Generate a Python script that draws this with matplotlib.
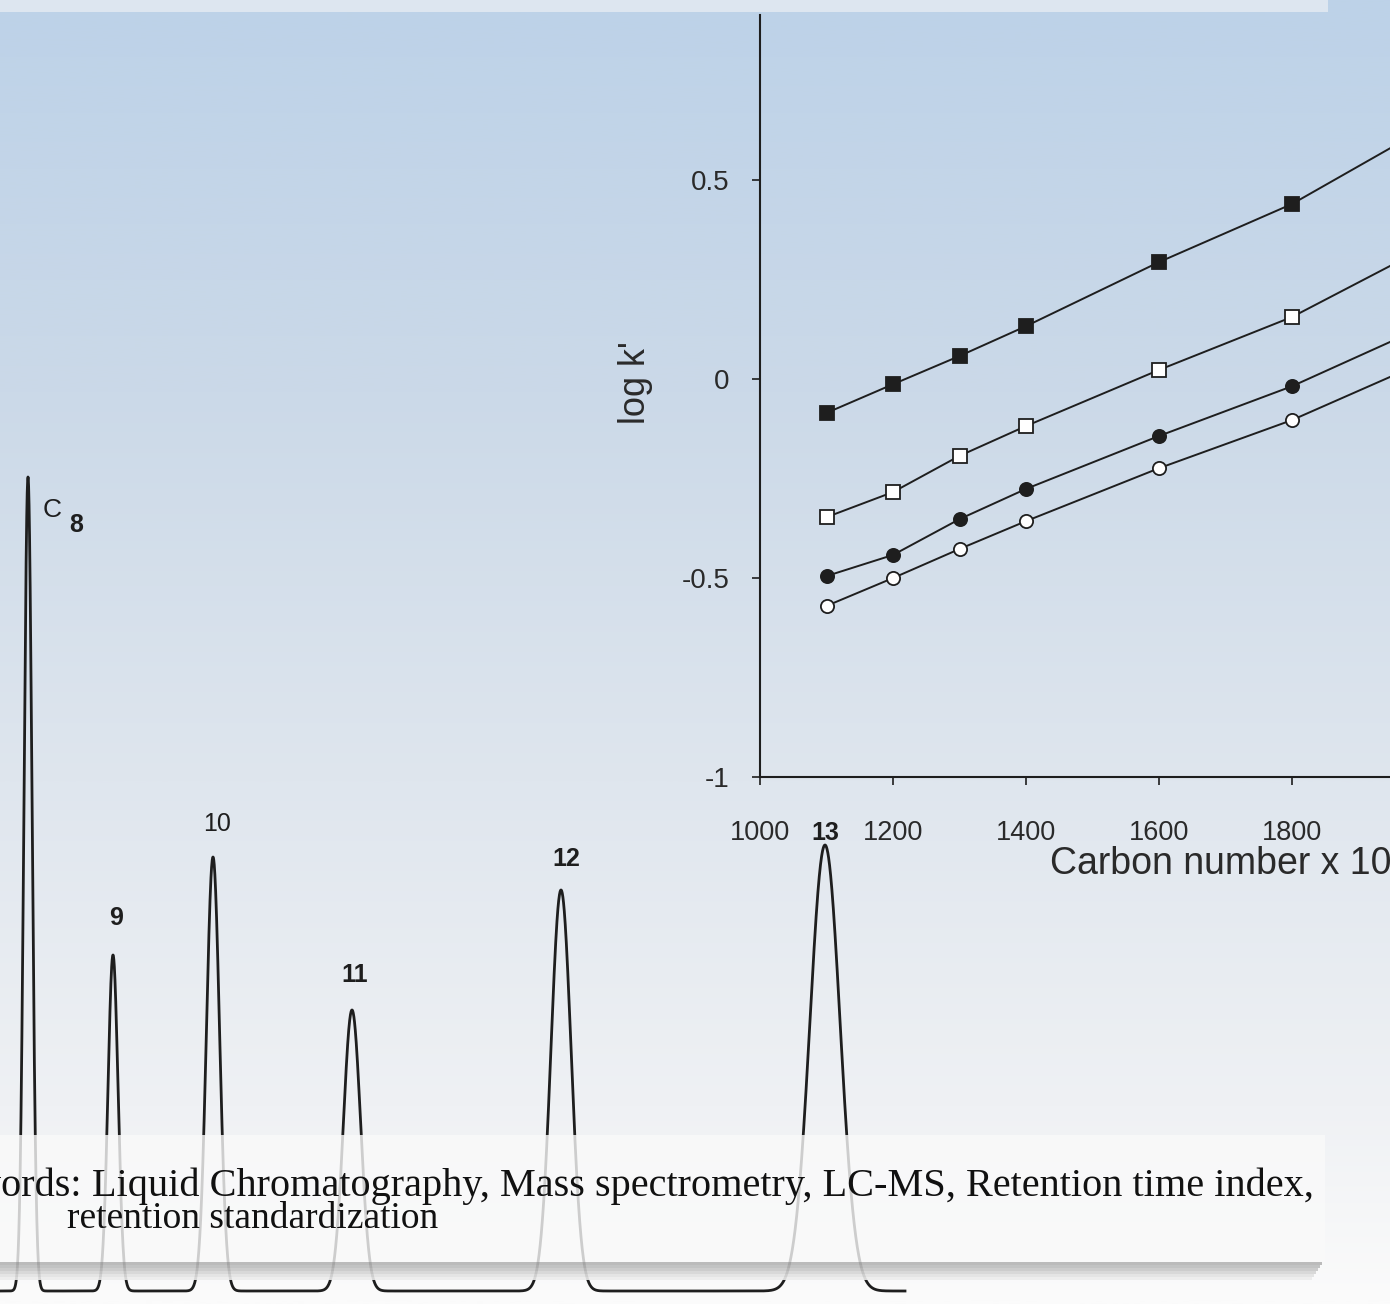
import numpy as np
import matplotlib
matplotlib.use("Agg")
import matplotlib.pyplot as plt
from matplotlib.colors import LinearSegmentedColormap
from matplotlib.patches import Rectangle

W, H, DPI = 1390, 1304, 100

# ---------------- chromatogram data ----------------
peak_labels = ["C8", "9", "10", "11", "12", "13"]
retention_min = [0.28, 1.13, 2.13, 3.52, 5.61, 8.25]
peak_height = [81.4, 33.6, 43.4, 28.1, 40.1, 44.6]
peak_sigma = [0.04, 0.05, 0.065, 0.085, 0.10, 0.15]
run_start_min, run_end_min = -0.3, 9.05

# ---------------- inset: log k' vs carbon number ----------------
carbon_number = [1100, 1200, 1300, 1400, 1600, 1800, 2000]
logk_filled_square = [-0.085, -0.013, 0.058, 0.133, 0.294, 0.440, 0.630]
logk_open_square = [-0.347, -0.284, -0.193, -0.118, 0.023, 0.156, 0.330]
logk_filled_circle = [-0.495, -0.442, -0.352, -0.276, -0.143, -0.018, 0.133]
logk_open_circle = [-0.570, -0.500, -0.427, -0.357, -0.224, -0.103, 0.044]
x_ticks = [1000, 1200, 1400, 1600, 1800]
y_ticks = [-1, -0.5, 0, 0.5]
y_ticklabels = ["-1", "-0.5", "0", "0.5"]

keywords_head = "Keywords: "
keywords_line1 = "Liquid Chromatography, Mass spectrometry, LC-MS, Retention time index,"
keywords_line2 = "retention standardization"


def fx(px):
    return px / W


def fy(py):
    return 1 - py / H


fig = plt.figure(figsize=(W / DPI, H / DPI), dpi=DPI)
plt.rcParams["font.family"] = ["Liberation Sans", "DejaVu Sans"]
ink = "#1e1e1e"

# background gradient
bg = fig.add_axes([0, 0, 1, 1], zorder=-5)
cmap = LinearSegmentedColormap.from_list(
    "bg", [(0.0, "#bdd2e8"), (0.3, "#cbd9e8"), (0.6, "#dfe6ee"),
           (0.85, "#eff1f4"), (1.0, "#fbfbfb")])
bg.imshow(np.linspace(0, 1, 512)[:, None], aspect="auto", cmap=cmap,
          extent=[0, 1, 0, 1], origin="upper")
bg.set_axis_off()

# chromatogram
ch = fig.add_axes([0, 0, 1, 1], zorder=0)
ch.set_facecolor("none")
ch.set_xlim(0, W / 100)
ch.set_ylim(-(H - 1291) / 10, 1291 / 10)
ch.set_axis_off()
t = np.linspace(run_start_min, run_end_min, 6000)
signal = np.zeros_like(t)
for rt, h, s in zip(retention_min, peak_height, peak_sigma):
    signal += h * np.exp(-0.5 * ((t - rt) / s) ** 2)
ch.plot(t, signal, color=ink, lw=2.0, solid_joinstyle="round")

label_offsets = {"9": (3, 37), "10": (4, 33), "11": (3, 35), "12": (5, 31), "13": (0, 12)}
for lab, rt, h in zip(peak_labels, retention_min, peak_height):
    if lab == "C8":
        ch.annotate("C", (rt, h), xytext=(24, -33), textcoords="offset pixels",
                    ha="center", va="center", fontsize=19, color=ink)
        ch.annotate("8", (rt, h), xytext=(48, -48), textcoords="offset pixels",
                    ha="center", va="center", fontsize=18, fontweight="bold", color=ink)
    else:
        ox, oy = label_offsets[lab]
        ch.annotate(lab, (rt, h), xytext=(ox, oy), textcoords="offset pixels",
                    ha="center", va="center", fontsize=18,
                    fontweight="normal" if lab == "10" else "bold", color=ink)

# inset
left_px, bottom_px, xmax = 760, 777, 2100
ax = fig.add_axes([fx(left_px), fy(bottom_px), (xmax - 1000) / 200 * 133 / W, 762 / H], zorder=2)
ax.set_facecolor("none")
ax.set_xlim(1000, xmax)
ax.set_ylim(-1, 0.915)
for sp in ("top", "right"):
    ax.spines[sp].set_visible(False)
for sp in ("left", "bottom"):
    ax.spines[sp].set_color(ink)
    ax.spines[sp].set_linewidth(1.5)
ax.set_xticks(x_ticks)
ax.set_xticklabels([str(v) for v in x_ticks])
ax.set_yticks(y_ticks)
ax.set_yticklabels(y_ticklabels)
ax.tick_params(axis="both", direction="out", length=6, width=1.2, color=ink,
               labelcolor="#2a2a2a", labelsize=19)
ax.tick_params(axis="x", labelsize=19.5, pad=25)
ax.tick_params(axis="y", labelsize=20, pad=16)

series = [
    (logk_filled_square, "s", ink, 10.5),
    (logk_open_square, "s", "white", 10.5),
    (logk_filled_circle, "o", ink, 9.5),
    (logk_open_circle, "o", "white", 9.5),
]
for ys, m, fc, ms in series:
    ax.plot(carbon_number, ys, color=ink, lw=1.4, marker=m, ms=ms,
            markerfacecolor=fc, markeredgecolor=ink, markeredgewidth=1.3, clip_on=True)

ax.text((636 - left_px) / 731, (bottom_px - 383) / 762, "log k'", transform=ax.transAxes,
        rotation=90, ha="center", va="center", fontsize=26, color="#2a2a2a")
ax.text((1050 - left_px) / 731, (bottom_px - 864) / 762, "Carbon number x 10",
        transform=ax.transAxes, ha="left", va="center", fontsize=27, color="#2a2a2a")

# top banner
fig.add_artist(Rectangle((0, fy(12)), fx(1328), 12 / H, transform=fig.transFigure,
                         facecolor="#dde6f0", edgecolor="none", zorder=5))

# keyword box with soft shadow
shadow_cols = ["#b5b5b5", "#bdbdbd", "#c8c8c8", "#d5d5d5", "#e2e2e2", "#ececec"]
for i, c in enumerate(shadow_cols):
    fig.add_artist(Rectangle((0, fy(1262 + 3 * (i + 1))), fx(1322 - 2 * i), 3 / H,
                             transform=fig.transFigure, facecolor=c, edgecolor="none",
                             alpha=0.9, zorder=5))
fig.add_artist(Rectangle((0, fy(1262)), fx(1325), (1262 - 1135) / H, transform=fig.transFigure,
                         facecolor="#fafafa", alpha=0.8, edgecolor="none", zorder=5))

kw_style = dict(family="Liberation Serif", color="#111111", zorder=6, va="center")
fig.text(fx(92), fy(1186), keywords_head, ha="right", fontsize=29, **kw_style)
fig.text(fx(92), fy(1186), keywords_line1, ha="left", fontsize=29, **kw_style)
fig.text(fx(67), fy(1219), keywords_line2, ha="left", fontsize=27, **kw_style)

fig.savefig("out.png", dpi=DPI)
